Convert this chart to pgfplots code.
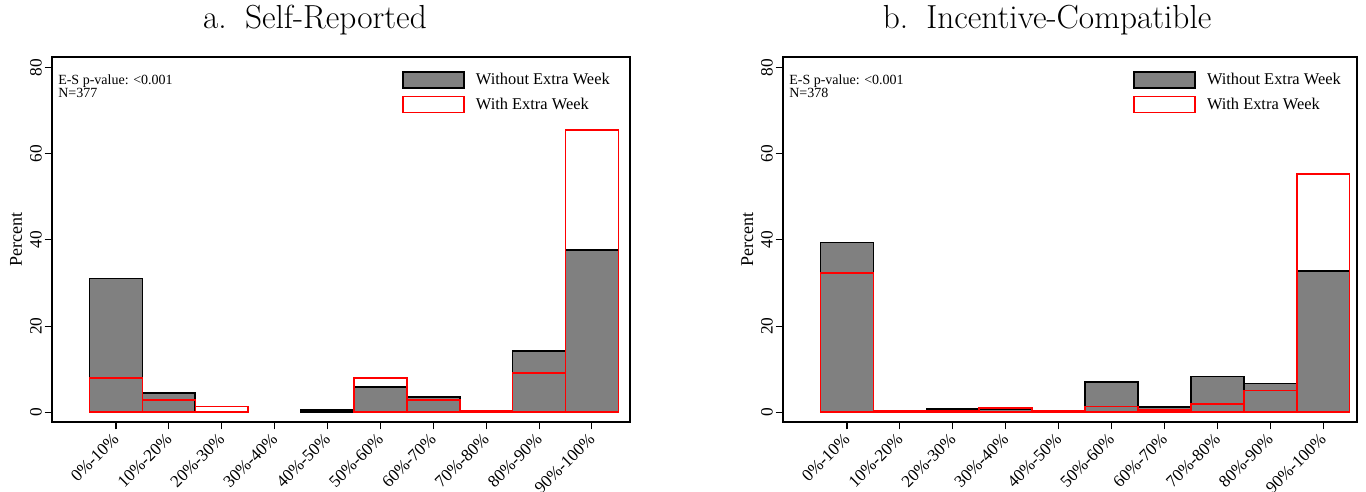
\documentclass[border=0pt]{standalone}
\usepackage{pgfplots}
\pgfplotsset{compat=1.18}
\usepackage{fontspec}
\newfontfamily\tms{Liberation Serif}

\pgfplotstableread{
x without
0 31.0
1 4.5
4 0.6
5 5.9
6 3.5
7 0.3
8 14.3
9 37.7
}\leftwithout
\pgfplotstableread{
x with
0 8.0
1 2.9
2 1.3
5 8.0
6 2.9
7 0.3
8 9.1
9 65.5
}\leftwith
\pgfplotstableread{
x without
0 39.4
1 0.3
2 0.8
3 0.8
4 0.3
5 7.1
6 1.3
7 8.3
8 6.7
9 32.7
}\rightwithout
\pgfplotstableread{
x with
0 32.3
1 0.3
2 0.4
3 1.0
4 0.3
5 1.3
6 0.6
7 1.9
8 5.1
9 55.3
}\rightwith

\pgfplotsset{
  hist/.style={
    scale only axis,
    height=273.75pt,
    ymin=-2.25, ymax=82.4,
    axis line style={line width=1.1pt, black},
    xtick={0,...,9},
    xticklabels={0\%-10\%,10\%-20\%,20\%-30\%,30\%-40\%,40\%-50\%,50\%-60\%,60\%-70\%,70\%-80\%,80\%-90\%,90\%-100\%},
    ytick={0,20,40,60,80},
    tick align=outside,
    xtick pos=bottom, ytick pos=left,
    major tick length=5.5pt,
    tick style={line width=0.8pt, black},
    /pgf/number format/assume math mode=true,
    xticklabel style={font=\tms\fontsize{12.8}{15}\selectfont, yshift=-5.3pt, rotate=45, anchor=east, inner sep=0pt},
    yticklabel style={font=\tms\fontsize{13}{15}\selectfont, rotate=90, anchor=south, inner sep=2pt},
    ylabel={Percent},
    ylabel style={font=\tms\fontsize{13.5}{15}\selectfont, at={(axis description cs:-0.0623,0.5)}, anchor=center},
    every axis title shift=0pt,
    title style={font=\fontsize{25}{29}\selectfont, anchor=center},
    legend style={draw=none, fill=none, inner sep=0pt, row sep=5pt,
      font=\tms\fontsize{12.3}{14}\selectfont,
      nodes={inner sep=0pt},
      /tikz/every odd column/.append style={column sep=8.25pt}},
    legend cell align=left,
  },
  graybar/.style={ybar, bar width=1, bar shift=0pt, fill=gray, draw=black, line width=1.3pt,
    legend image code/.code={\draw[fill=gray, draw=black, line width=1.3pt] (0pt,-6pt) rectangle (45.75pt,6pt);}},
  redbar/.style={ybar, bar width=1, bar shift=0pt, fill=none, draw=red, line width=1.2pt,
    legend image code/.code={\draw[fill=none, draw=red, line width=1.1pt] (0pt,-6pt) rectangle (45.75pt,6pt);}},
}

\begin{document}
\begin{tikzpicture}[x=1pt,y=1pt]
\useasboundingbox (0,0) rectangle (1024.5,369);

\begin{axis}[hist,
  at={(39pt,52.5pt)}, anchor=south west,
  width=433.5pt,
  xmin=-1.21, xmax=9.72,
  title={a.\hspace{0.55em}Self-Reported},
  title style={at={(axis description cs:0.455,1.101)}},
  legend style={at={(axis description cs:0.6055,0.9616)}, anchor=north west},
]
\addplot[graybar] table[x=x,y=without] {\leftwithout};
\addlegendentry{Without Extra Week}
\addplot[redbar] table[x=x,y=with] {\leftwith};
\addlegendentry{With Extra Week}
\node[anchor=north west, align=left, inner sep=0pt, font=\tms\fontsize{10.5}{10}\selectfont]
  at (axis description cs:0.0104,0.952) {E-S p-value: <0.001\\N=377};
\end{axis}

\begin{axis}[hist,
  at={(587.25pt,52.5pt)}, anchor=south west,
  width=430.5pt,
  xmin=-1.21, xmax=9.64,
  title={b.\hspace{0.55em}Incentive-Compatible},
  title style={at={(axis description cs:0.46,1.101)}},
  legend style={at={(axis description cs:0.6098,0.9616)}, anchor=north west},
]
\addplot[graybar] table[x=x,y=without] {\rightwithout};
\addlegendentry{Without Extra Week}
\addplot[redbar] table[x=x,y=with] {\rightwith};
\addlegendentry{With Extra Week}
\node[anchor=north west, align=left, inner sep=0pt, font=\tms\fontsize{10.5}{10}\selectfont]
  at (axis description cs:0.0105,0.952) {E-S p-value: <0.001\\N=378};
\end{axis}
\end{tikzpicture}
\end{document}
